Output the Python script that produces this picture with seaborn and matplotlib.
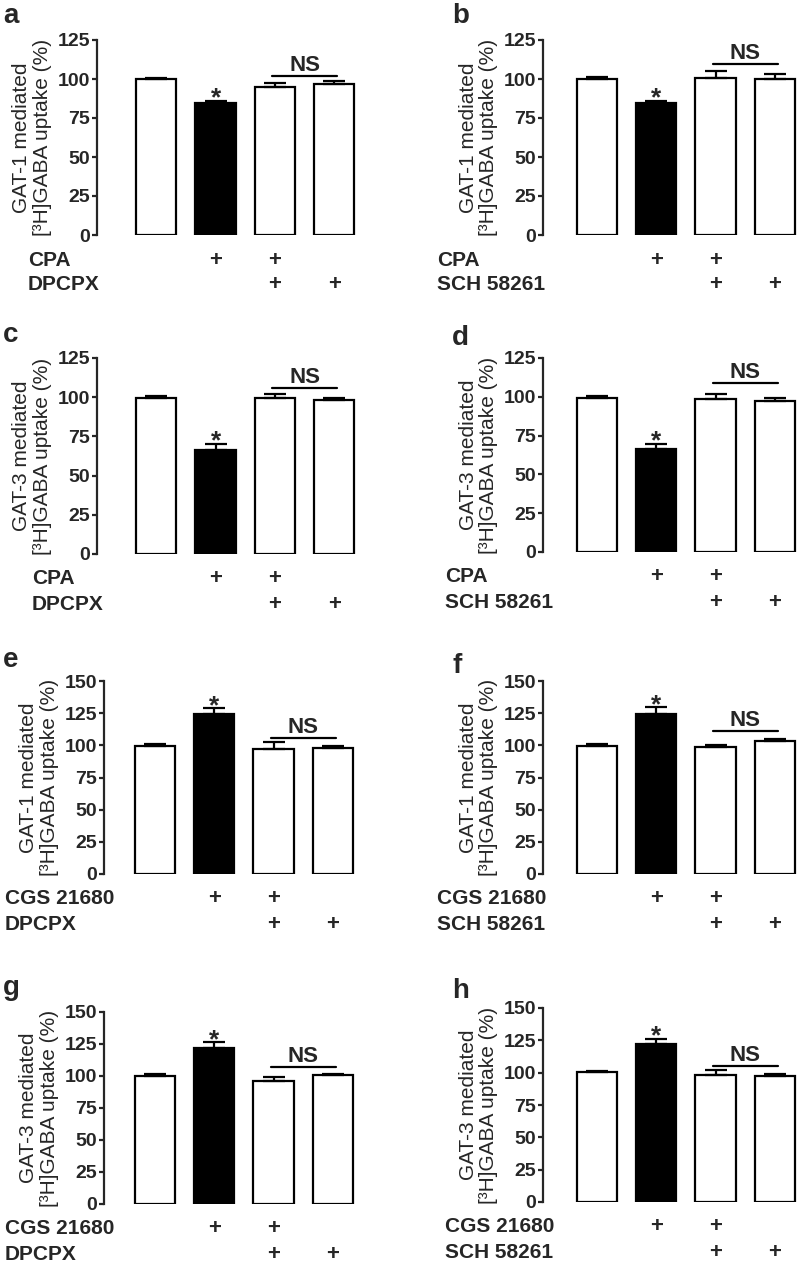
import numpy as np
import pandas as pd
import seaborn as sns
import matplotlib
matplotlib.use('Agg')
import matplotlib.pyplot as plt

# group order on the x axis: control, agonist, agonist + antagonist, antagonist
groups = ['ctrl', 'agonist', 'agonist+antagonist', 'antagonist']
bar_colors = {'ctrl': 'white', 'agonist': 'black',
              'agonist+antagonist': 'white', 'antagonist': 'white'}

# uptake, % of control (mean) and SEM
mean_a = [99.8, 84.4, 94.6, 97.1]
sem_a = [1.1, 1.6, 2.8, 1.4]
mean_b = [99.9, 84.6, 100.5, 99.7]
sem_b = [1.5, 1.5, 4.7, 3.2]
mean_c = [99.5, 66.5, 99.5, 98.4]
sem_c = [1.1, 3.9, 2.5, 1.1]
mean_d = [99.4, 66.2, 98.7, 97.0]
sem_d = [0.9, 3.4, 3.0, 2.1]
mean_e = [99.6, 124.1, 97.0, 97.7]
sem_e = [1.5, 4.7, 5.7, 1.9]
mean_f = [99.8, 124.5, 98.5, 103.5]
sem_f = [1.0, 5.2, 1.6, 1.5]
mean_g = [99.9, 122.0, 96.3, 100.4]
sem_g = [1.3, 4.4, 2.6, 1.1]
mean_h = [100.3, 122.0, 98.3, 97.5]
sem_h = [1.1, 4.2, 3.8, 1.5]

# height of the "NS" bracket
ns_level = [102, 109.5, 106, 108.8, 106, 111, 107, 105.5]

letters = ['a', 'b', 'c', 'd', 'e', 'f', 'g', 'h']
transporter = ['GAT-1', 'GAT-1', 'GAT-3', 'GAT-3', 'GAT-1', 'GAT-1', 'GAT-3', 'GAT-3']
agonist = ['CPA', 'CPA', 'CPA', 'CPA', 'CGS 21680', 'CGS 21680', 'CGS 21680', 'CGS 21680']
antagonist = ['DPCPX', 'SCH 58261', 'DPCPX', 'SCH 58261',
              'DPCPX', 'SCH 58261', 'DPCPX', 'SCH 58261']
y_max = [125, 125, 125, 125, 150, 150, 150, 150]

means = [mean_a, mean_b, mean_c, mean_d, mean_e, mean_f, mean_g, mean_h]
sems = [sem_a, sem_b, sem_c, sem_d, sem_e, sem_f, sem_g, sem_h]

W, H = 799, 1263
# layout in pixels: spine x, top, bottom, xlim left, row label x, letter x, letter baseline
layout = [
    (97, 40, 235, -1.0, 28, 3, 23),
    (543, 40, 235, -0.91, 437, 452, 23),
    (97, 358, 554, -1.0, 32, 3, 342),
    (543, 358, 552, -0.91, 445, 452, 345),
    (104, 681, 874, -0.86, 5, 3, 667),
    (543, 681, 874, -0.91, 437, 452, 673),
    (104, 1012, 1204, -0.86, 5, 3, 995),
    (543, 1008, 1202, -0.91, 445, 452, 998),
]
step = 59.3  # px per category

sns.set_style('ticks')
plt.rcParams['font.family'] = ['Liberation Sans', 'DejaVu Sans']
plt.rcParams['axes.linewidth'] = 1.6

fig = plt.figure(figsize=(W / 100, H / 100), dpi=100)

for i in range(8):
    x0, top, bot, xlo, lab_x, let_x, let_y = layout[i]
    xhi = 3.4
    wpx = (xhi - xlo) * step
    ax = fig.add_axes([x0 / W, 1 - bot / H, wpx / W, (bot - top) / H])

    df = pd.DataFrame({'grp': groups, 'val': means[i]})
    sns.barplot(data=df, x='grp', y='val', hue='grp', palette=bar_colors,
                width=0.68, edgecolor='black', linewidth=1.6, saturation=1,
                errorbar=None, legend=False, ax=ax)
    ax.errorbar(range(4), means[i], yerr=[np.zeros(4), sems[i]], fmt='none',
                ecolor='black', elinewidth=1.6, capsize=8, capthick=1.6, zorder=1)

    ax.set_xlim(xlo, xhi)
    ax.set_ylim(0, y_max[i])
    ax.set_yticks(np.arange(0, y_max[i] + 1, 25))
    ax.set_xticks([])
    ax.set_xlabel('')
    ax.tick_params(axis='y', length=3.6, width=1.6, labelsize=14, pad=1.2)
    for t in ax.get_yticklabels():
        t.set_fontweight('bold')
    sns.despine(ax=ax, bottom=True)

    ax.set_ylabel(transporter[i] + ' mediated\n[³H]GABA uptake (%)',
                  fontsize=15, linespacing=1.1)
    ax.yaxis.set_label_coords(-45 / wpx, 0.5)

    # significance marks
    ax.annotate('*', xy=(1, means[i][1] + sems[i][1]), xytext=(0, -7),
                textcoords='offset points', ha='center', va='bottom',
                fontsize=19, fontweight='bold')
    ax.plot([1.95, 3.05], [ns_level[i], ns_level[i]], color='black', lw=1.6,
            clip_on=False)
    ax.annotate('NS', xy=(2.5, ns_level[i]), xytext=(0, 0),
                textcoords='offset points', ha='center', va='bottom',
                fontsize=16, fontweight='bold')

    # treatment table under the bars
    rows = [(agonist[i], [1, 2]), (antagonist[i], [2, 3])]
    for r, (name, plus) in enumerate(rows):
        off = -18 - 18 * r
        ax.annotate(name, xy=(lab_x, 0), xycoords=('figure pixels', 'data'),
                    xytext=(0, off), textcoords='offset points',
                    ha='left', va='center', fontsize=15, fontweight='bold',
                    annotation_clip=False)
        for p in plus:
            ax.annotate('+', xy=(p, 0), xytext=(0, off),
                        textcoords='offset points', ha='center', va='center',
                        fontsize=16, fontweight='bold', annotation_clip=False)

    fig.text(let_x / W, 1 - let_y / H, letters[i], fontsize=20,
             fontweight='bold', ha='left', va='baseline')

fig.savefig('out.png', dpi=100)
